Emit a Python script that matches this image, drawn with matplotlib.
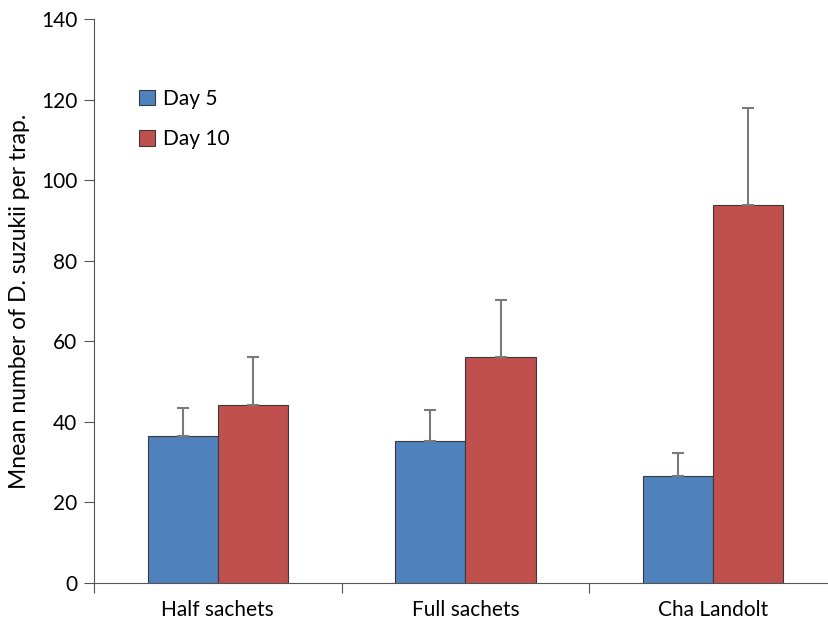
import matplotlib
matplotlib.use("Agg")
import matplotlib.pyplot as plt
import numpy as np

plt.rcParams['font.family'] = ['Lato', 'DejaVu Sans']

# data
categories = ["Half sachets", "Full sachets", "Cha Landolt"]
day5 = [36.5, 35.2, 26.6]
day5_err = [6.9, 7.7, 5.7]
day10 = [44.2, 56.1, 93.8]
day10_err = [11.9, 14.1, 24.1]

fig = plt.figure(figsize=(8.29, 6.30), dpi=100)
ax = fig.add_axes([94 / 829, 47 / 630, 743 / 829, 564 / 630])

x = np.arange(len(categories))
w = 0.283
err_kw = dict(ecolor='#7a7a7a', elinewidth=1.5, capsize=4.5, capthick=1.5)
ax.bar(x - w / 2, day5, w, color='#4F81BD', edgecolor='#3a3a3a', linewidth=0.8,
       yerr=[np.zeros(3), day5_err], error_kw=err_kw, label='Day 5')
ax.bar(x + w / 2, day10, w, color='#C0504D', edgecolor='#3a3a3a', linewidth=0.8,
       yerr=[np.zeros(3), day10_err], error_kw=err_kw, label='Day 10')

ax.set_xlim(-0.5, 2.5)
ax.set_ylim(0, 140)
ax.set_yticks(np.arange(0, 141, 20))
ax.set_xticks(x)
ax.set_xticklabels(categories, fontsize=15)
ax.tick_params(axis='x', which='major', length=0, pad=12)
ax.set_xticks(np.arange(-0.5, 3, 1), minor=True)
ax.tick_params(axis='x', which='minor', length=7, width=0.8, color='#555555')
ax.tick_params(axis='y', length=7, width=0.8, color='#555555', labelsize=15, pad=5)

for s in ['top', 'right']:
    ax.spines[s].set_visible(False)
for s in ['left', 'bottom']:
    ax.spines[s].set_color('#555555')
    ax.spines[s].set_linewidth(0.8)

ax.set_ylabel("Mnean number of D. suzukii per trap.", fontsize=16.5, labelpad=8)

ax.legend(loc='upper left', bbox_to_anchor=(0.036, 0.91), frameon=False,
          fontsize=15, handlelength=0.75, handleheight=0.75, labelspacing=1.0,
          handletextpad=0.4)

fig.savefig("out.png", dpi=100)
